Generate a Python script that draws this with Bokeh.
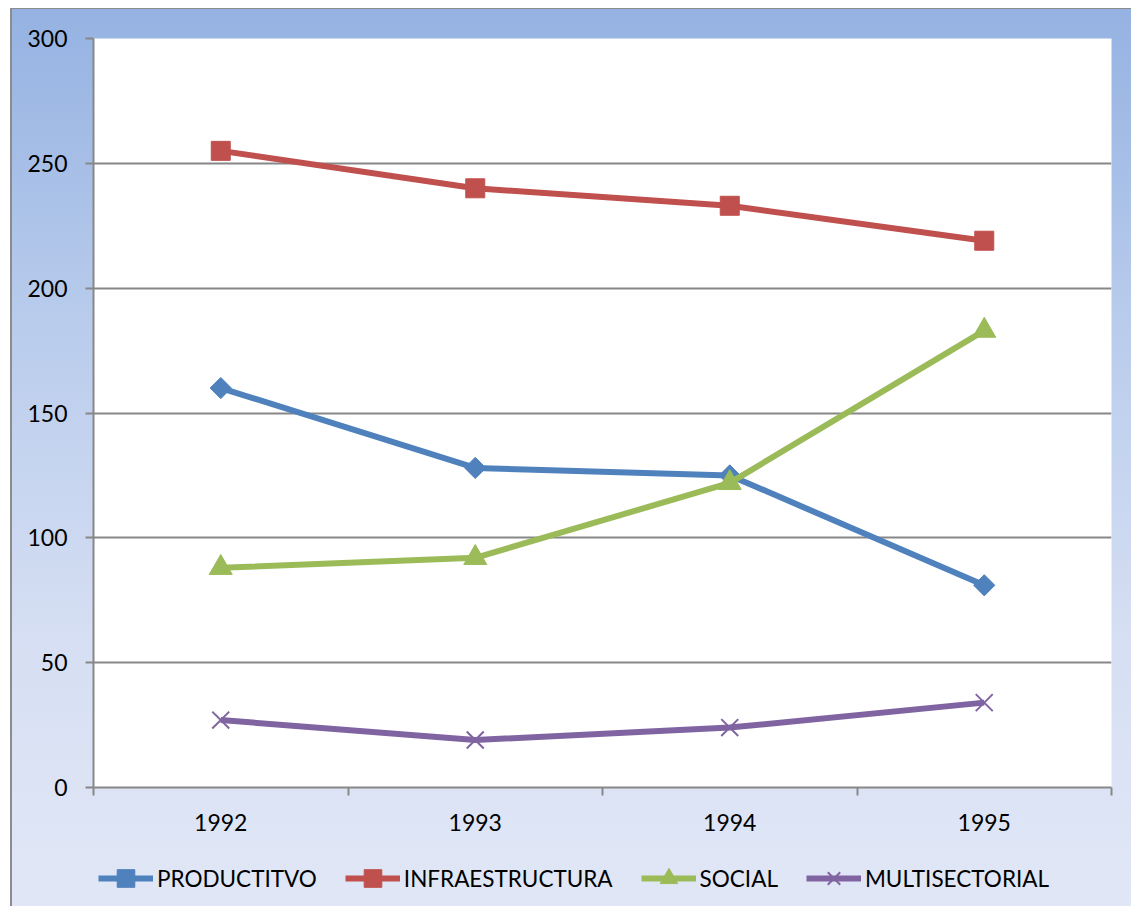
from bokeh.plotting import figure
from bokeh.models import (FixedTicker, Legend, LegendItem, Range1d)
from bokeh.layouts import column
from bokeh.embed import file_html
from bokeh.resources import INLINE
import numpy as np

years = ["1992", "1993", "1994", "1995"]
productivo = [160, 128, 125, 81]
infraestructura = [255, 240, 233, 219]
social = [88, 92, 122, 183]
multisectorial = [27, 19, 24, 34]

series = [
    ("PRODUCTITVO", productivo, "#4F81BD", "diamond"),
    ("INFRAESTRUCTURA", infraestructura, "#C0504D", "square"),
    ("SOCIAL", social, "#9BBB59", "triangle"),
    ("MULTISECTORIAL", multisectorial, "#8064A2", "x"),
]

xs = [i + 0.5 for i in range(len(years))]
FONT = "Lato"
W = 1131
H_MAIN = 845
H_LEG = 61


def add_series(fig, vals, color, marker):
    lr = fig.line(xs, vals, line_color=color, line_width=6)
    if marker == "diamond":
        sr = fig.scatter(xs, vals, marker="square", angle=np.pi / 4, size=15,
                         fill_color=color, line_color=color)
    elif marker == "square":
        sr = fig.scatter(xs, vals, marker="square", size=19,
                         fill_color=color, line_color=color)
    elif marker == "triangle":
        sr = fig.scatter(xs, vals, marker="triangle", size=23,
                         fill_color=color, line_color=color)
    else:
        sr = fig.scatter(xs, vals, marker="x", size=24, line_color=color,
                         line_width=2)
    return lr, sr


p = figure(width=W, height=H_MAIN, output_backend="svg", toolbar_location=None,
           x_range=Range1d(0, len(years)), y_range=Range1d(0, 300),
           min_border_left=93, min_border_top=38, min_border_right=20,
           min_border_bottom=H_MAIN - 787)

p.border_fill_color = None
p.background_fill_color = "white"
p.outline_line_color = None

# grid
p.xgrid.grid_line_color = None
p.ygrid.grid_line_color = "#878787"
p.ygrid.grid_line_width = 2

# y axis
p.yaxis.ticker = FixedTicker(ticks=[0, 50, 100, 150, 200, 250, 300])
p.yaxis.axis_line_color = "#878787"
p.yaxis.axis_line_width = 2
p.yaxis.major_tick_line_color = "#878787"
p.yaxis.major_tick_line_width = 2
p.yaxis.major_tick_out = 8
p.yaxis.major_tick_in = 0
p.yaxis.minor_tick_line_color = None
p.yaxis.major_label_text_font = FONT
p.yaxis.major_label_text_font_size = "23px"
p.yaxis.major_label_text_color = "black"
p.yaxis.major_label_standoff = 18

# x axis: labels at category centres, tick marks at category boundaries
p.xaxis.ticker = FixedTicker(ticks=xs, minor_ticks=list(range(len(years) + 1)))
p.xaxis.major_label_overrides = {x: y for x, y in zip(xs, years)}
p.xaxis.axis_line_color = "#878787"
p.xaxis.axis_line_width = 2
p.xaxis.major_tick_line_color = None
p.xaxis.major_tick_out = 0
p.xaxis.major_tick_in = 0
p.xaxis.minor_tick_line_color = "#878787"
p.xaxis.minor_tick_line_width = 2
p.xaxis.minor_tick_out = 8
p.xaxis.minor_tick_in = 0
p.xaxis.major_label_text_font = FONT
p.xaxis.major_label_text_font_size = "23px"
p.xaxis.major_label_text_color = "black"
p.xaxis.major_label_standoff = 18

for name, vals, color, marker in series:
    add_series(p, vals, color, marker)

# legend strip (same series, drawn out of view; only the legend shows)
lp = figure(width=W, height=H_LEG, output_backend="svg", toolbar_location=None,
            x_range=Range1d(100, 101), y_range=Range1d(1000, 1001),
            x_axis_location=None, y_axis_location=None, min_border=0)
lp.border_fill_color = None
lp.background_fill_color = None
lp.outline_line_color = None
lp.grid.visible = False

items = []
for name, vals, color, marker in series:
    lr, sr = add_series(lp, vals, color, marker)
    items.append(LegendItem(label=name, renderers=[lr, sr]))

# the column aligns this strip's frame with the main frame (left edge at 93px)
legend = Legend(items=items, orientation="horizontal", location=(5, 6),
                glyph_width=55, glyph_height=44, label_standoff=4, spacing=28,
                label_text_font=FONT, label_text_font_size="22.5px",
                label_text_color="black", background_fill_alpha=0,
                border_line_color=None, margin=0, padding=0)
lp.add_layout(legend, "center")

layout = column(p, lp, spacing=0)
layout.styles = {
    "background":
        "linear-gradient(#8c8c8c,#8c8c8c) 10px 8px / 2px 100% no-repeat, "
        "linear-gradient(#8c8c8c,#8c8c8c) 10px 8px / 100% 1px no-repeat, "
        "linear-gradient(to bottom, #95B2E2 0%, #B9CCEC 35%, #D6DFF3 70%, #E1E7F6 100%) 10px 8px / 100% 100% no-repeat, "
        "white",
}

open("out.html", "w").write(file_html(layout, INLINE))
